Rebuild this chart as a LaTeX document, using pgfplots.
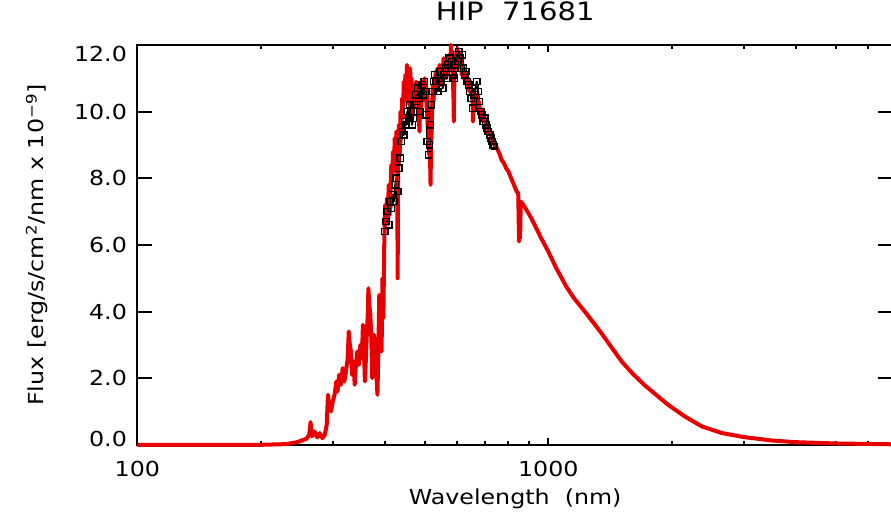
\documentclass[border=0pt]{standalone}
\usepackage{fontspec}
\setmainfont{DejaVu Sans}[FakeStretch=1.15]
\usepackage{pgfplots}
\usepackage{pgfplotstable}
\pgfplotsset{compat=1.18}
\definecolor{specred}{RGB}{232,0,0}

\pgfplotstableread{
lam F
100 0
150 0
200 0
230 0.02
245 0.08
258 0.18
262 0.30
264 0.68
266 0.25
270 0.40
274 0.22
278 0.35
282 0.20
286 0.30
289 0.60
291 1.50
293 1.20
296 1.00
299 1.30
302 1.50
305 1.90
307 1.60
310 2.10
313 1.80
316 2.30
319 1.90
322 2.20
325 2.60
327 3.40
329 3.00
331 2.80
333 2.10
336 2.50
338 1.80
340 2.30
343 2.80
346 2.40
349 3.00
352 2.60
354 3.60
356 2.80
358 1.90
360 2.60
362 3.40
364 4.00
365 4.70
367 4.20
369 3.90
371 3.20
373 2.00
375 2.60
377 3.30
379 2.70
381 2.20
383 1.80
384 1.50
386 2.80
388 4.50
390 3.00
392 4.00
393 2.80
395 5.00
397 3.80
399 6.00
401 7.20
403 6.60
405 7.40
407 6.80
409 7.80
411 6.90
413 7.60
415 8.40
417 7.90
419 8.80
421 8.20
423 9.20
425 8.60
427 9.40
429 8.40
430 5.00
431 8.00
433 9.60
435 8.80
437 10.00
439 9.40
441 10.40
443 9.80
445 10.90
447 10.30
449 11.10
451 10.40
453 11.40
455 10.60
457 11.00
459 10.20
461 11.30
463 10.70
465 11.00
467 9.90
469 10.60
471 10.10
473 10.80
475 10.30
477 10.90
479 10.40
481 10.70
483 10.10
486 9.40
488 10.40
490 10.00
492 10.70
494 10.30
496 10.90
498 10.50
500 11.00
502 10.50
504 10.80
506 10.10
508 10.60
510 9.60
512 9.90
514 8.90
516 8.40
517 7.80
518 8.60
520 9.40
522 10.20
524 10.80
526 10.30
528 11.00
530 10.60
532 11.20
535 10.80
538 11.30
541 10.90
544 11.40
547 10.80
550 11.30
553 11.00
556 11.60
559 11.10
562 11.50
565 11.00
568 11.60
571 11.20
574 11.70
577 11.30
580 12.00
582 11.50
584 11.80
586 11.00
588 10.40
589 9.70
590 10.60
592 11.30
595 11.70
598 11.40
601 11.90
604 11.50
607 11.80
610 11.30
613 11.60
616 11.10
619 11.40
622 11.00
625 11.30
628 10.90
631 11.20
635 10.80
639 11.00
643 10.60
647 10.90
651 10.50
654 10.60
656 9.70
658 10.30
661 10.60
665 10.30
669 10.50
673 10.20
677 10.30
681 10.00
685 10.10
689 9.80
694 9.90
698 9.70
703 9.80
708 9.50
714 9.50
720 9.30
727 9.30
734 9.10
742 9.00
750 8.90
760 8.75
770 8.55
780 8.45
790 8.30
800 8.20
812 8.00
825 7.80
838 7.60
845 7.55
849 6.10
851 7.00
854 6.20
857 7.30
870 7.20
890 7.00
909 6.80
935 6.50
961 6.20
1000 5.80
1046 5.30
1106 4.75
1155 4.40
1236 3.95
1347 3.35
1430 2.90
1509 2.50
1600 2.15
1712 1.80
1830 1.50
1958 1.20
2150 0.85
2366 0.55
2650 0.35
2998 0.23
3500 0.13
3984 0.08
5000 0.04
6900 0.015
}\redspec

\pgfplotstableread{
lam F
400 6.4
403 6.7
406 7.0
409 6.6
412 7.3
415 7.1
418 7.5
421 7.3
424 7.8
427 8.0
430 7.6
433 8.3
436 8.6
439 9.1
442 9.4
445 9.3
448 9.7
451 9.6
454 10.0
457 9.8
460 10.2
463 10.0
466 9.6
469 9.8
472 10.2
475 10.5
478 10.3
481 10.7
484 10.4
487 10.0
490 10.6
493 10.8
496 10.5
499 10.9
502 10.6
505 9.9
508 9.1
511 8.7
514 9.0
517 9.6
520 10.2
523 10.6
526 10.9
530 11.1
534 10.9
538 10.6
542 11.0
546 11.2
550 10.9
554 10.7
558 11.1
562 11.3
566 11.0
570 11.4
574 11.6
578 11.2
582 11.5
586 11.1
590 11.0
594 11.4
598 11.7
602 11.5
606 11.8
610 11.6
614 11.3
618 11.7
622 11.3
626 11.1
630 11.2
635 10.9
640 10.8
645 10.6
650 10.4
655 10.1
660 10.5
665 10.7
670 10.9
675 10.6
680 10.3
685 10.0
690 9.9
695 9.7
700 9.8
705 9.6
710 9.5
715 9.4
720 9.3
725 9.2
730 9.1
735 9.0
740 8.95
}\obsspec

\begin{document}
\begin{tikzpicture}
\begin{axis}[
  scale only axis, width=377pt, height=199.5pt,
  xmode=log, xmin=100, xmax=6900, ymin=0, ymax=12,
  clip=false,
  xtick={100,1000}, xticklabels={100,1000},
  minor xtick={200,300,400,500,600,700,800,900,2000,3000,4000,5000,6000},
  ytick={0,2,4,6,8,10,12},
  yticklabels={\raisebox{3pt}{0.0},2.0,4.0,6.0,8.0,10.0,\raisebox{-4.4pt}{12.0}},
  /pgf/number format/assume math mode=true,
  tick align=inside, tick pos=both,
  major tick length=7.5pt, minor tick length=2pt,
  xtick style={/pgfplots/major tick length=3.5pt},
  every tick/.append style={black, line width=1pt},
  axis line style={line width=1pt},
  xticklabel style={font=\fontsize{10.3}{12}\selectfont, anchor=base, yshift=-16pt, inner sep=0pt},
  yticklabel style={font=\fontsize{10.3}{12}\selectfont, anchor=base east, xshift=-5pt, yshift=-3.75pt, inner sep=0pt},
  title={HIP\ \ 71681},
  title style={at={(axis description cs:0.5,1)}, anchor=base, yshift=6pt, font=\fontsize{12.6}{14}\selectfont},
  xlabel={Wavelength\ \ (nm)},
  xlabel style={at={(axis description cs:0.5,0)}, anchor=base, yshift=-30pt, font=\fontsize{10.3}{12}\selectfont},
  ylabel={Flux [erg/s/cm\textsuperscript{2}/nm x 10\textsuperscript{\char"2212 9}]},
  ylabel style={at={(axis description cs:-0.1326,0.5)}, anchor=center, font=\fontsize{10.3}{12}\selectfont},
]
\addplot[black, line width=1pt, line join=round] table[x=lam, y=F] {\obsspec};
\addplot[specred, line width=2pt, line join=round] table[x=lam, y=F] {\redspec};
\addplot[only marks, mark=square, mark size=1.6pt, black, mark options={line width=0.7pt}] table[x=lam, y=F] {\obsspec};
\end{axis}
\pgfresetboundingbox
\useasboundingbox (-68.5pt,-33.2pt) rectangle (376pt,221.9pt);
\end{tikzpicture}
\end{document}
